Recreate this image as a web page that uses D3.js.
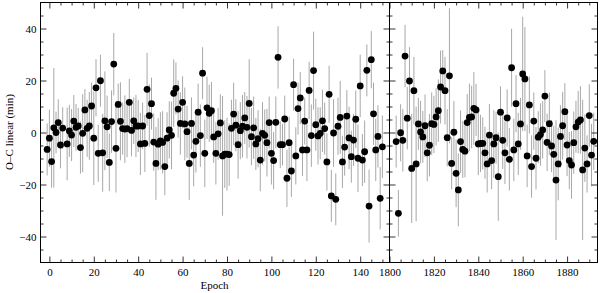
<!DOCTYPE html>
<html>
<head>
<meta charset="utf-8">
<script src="https://cdn.jsdelivr.net/npm/d3@7"></script>
<style>
  html, body { margin: 0; padding: 0; background: #fff; }
  svg { display: block; }
  svg text { font-family: "Liberation Serif", "DejaVu Serif", serif; }
</style>
</head>
<body>
<div id="chart"></div>
<script>
// O-C residuals, early epochs (left panel)
const leftEpoch = [-1,0,1,2,3,4,5,6,8,9,10,11,12,13,14,15,16,17,18,19,20,21,22,23,24,25,26,27,28,29,
  30,31,32,33,34,35,36,37,38,39,40,41,42,43,44,45,46,47,48,49,50,51,52,53,54,55,56,57,58,59,
  60,61,62,63,64,65,66,67,68,69,70,71,72,73,74,75,76,77,78,79,80,81,82,83,84,85,86,87,88,89,
  90,91,92,93,94,95,96,97,98,99,100,101,102,103,104,105,106,107,108,109,110,111,112,113,114,115,116,117,118,119,
  120,121,122,123,124,125,126,127,128,129,130,131,132,133,134,135,136,137,138,139,140,141,142,143,144,145,146,147,148,149,150]
const leftOC = [-6.5,-2.2,-11.2,1.8,0,3.8,-4.8,1.7,-4.4,0.6,-1,4.4,2,2.5,-5.8,-0.3,8.7,1.6,2.5,10.2,-2.2,17.2,-8,19.9,-7.8,4.5,2.2,-11.5,4.2,26.3,
  -6.1,10.8,4.3,1.5,1.3,1.5,11.6,0.8,4.5,2.5,2.5,-4.4,2.5,-4.2,16.6,6.5,11.1,-3.7,-11.9,-4.5,-3.2,-3.8,-13.1,-2.2,1,-1.1,15.1,17,9,3.5,
  11.6,3.3,0.3,-11.9,3.5,-8.7,-3.4,7.8,-1.2,22.8,-8,9.5,7.4,8.4,-1.7,-8,-0.5,3.7,-9,-8.3,-8.3,-8.5,1.6,7.1,2.8,-4.7,0.7,2.4,5.6,2,
  11.2,-1.6,1.8,-4.4,-2.4,-10.6,-0.3,-1.1,-3.9,3.8,-8,-10.8,3.9,28.9,-4.7,-4.7,5.2,-17.6,-3.9,-14.8,18.4,-9,9.2,13.3,-6.7,4.4,-6.7,16.2,-1.2,23.8,
  3,-1.3,-0.3,4.5,1.5,-11.3,14.7,-24.4,-0.2,-25.7,2.4,5.8,-11.3,-5.6,6.3,-2.1,-9.3,-2.9,5.1,-9.9,17.9,-10.6,-7.4,23.9,-28.3,28,7.2,-6.7,-1.5,-25.3,-5.5]
const leftErr = [10,11,10,23,8,9,9,8,14,10,10,10,9,7,10,15,8,11,13,9,18,11,11,10,15,19,12,11,12,12,
  17,8,15,10,13,11,9,10,9,12,10,12,9,11,14,12,10,11,14,10,11,12,11,10,11,13,13,10,11,12,
  10,14,10,14,10,12,12,11,12,10,13,12,11,11,10,12,10,11,23,13,14,12,11,12,10,13,11,12,10,12,
  17,11,12,10,11,12,12,10,13,10,12,11,10,12,9,8,9,11,10,10,10,11,10,10,10,9,12,11,12,15,
  10,11,10,12,10,11,11,10,13,10,11,14,10,11,10,12,10,10,11,13,12,10,12,10,14,11,12,12,12,12,12]

// O-C residuals, late epochs (right panel)
const rightEpoch = [1803,1804,1805,1806,1807,1808,1809,1810,1811,1812,1813,1814,1815,1816,1817,1818,1819,1820,1821,1822,
  1823,1824,1825,1826,1827,1828,1829,1830,1831,1832,1833,1834,1835,1836,1837,1838,1839,1840,1841,1842,
  1843,1844,1845,1846,1847,1848,1849,1850,1851,1852,1853,1854,1855,1856,1857,1858,1859,1860,1861,1862,
  1863,1864,1865,1866,1867,1868,1869,1870,1871,1872,1873,1874,1875,1876,1877,1878,1879,1880,1881,1882,
  1883,1884,1885,1886,1887,1888,1889,1890,1891,1892]
const rightOC = [-3.5,-31.1,-0.1,-3,29.4,5.5,19.8,-13.8,16.1,-12.1,3.3,0.2,-1.7,2.6,-7.8,-4.9,3.4,3.1,6,8.4,
  17.5,23.7,16.1,-2,21.8,-11.9,0.1,-15.7,-22.1,-3.5,-6.5,-7.2,3.8,5.8,6,9.3,8.7,-4.4,-4.2,-4.2,
  -7.8,-12.1,-1,-10.8,-4.4,-2,-17,7.8,-3,-7.8,5.6,-10.3,24.9,-6.7,11.1,-4.4,3.3,22.5,20.6,-9,
  10.6,-13.1,4.4,-9.9,-1.8,-0.8,1,14,-3.8,3.4,-5.2,-8.4,-18.3,-12.1,-1.5,2.6,8,-4.8,-10.8,-12.5,
  -3.9,2.2,4,4.8,-14.4,-6,-12.1,6.5,-8.7,-3.4]
const rightErr = [10,9,11,12,12,12,13,21,13,22,10,12,10,12,11,12,12,11,11,12,
  14,8,13,11,26,10,12,13,14,12,11,10,11,13,12,14,10,12,11,10,
  10,11,12,11,13,10,17,10,11,12,11,12,15,12,11,12,10,22,20,12,
  11,12,11,12,10,12,11,10,11,12,10,11,23,14,12,13,11,12,11,13,
  12,10,12,13,27,13,11,12,12,11]

const yMajor = [-40, -20, 0, 20, 40]
const leftMajor = [0, 20, 40, 60, 80, 100, 120, 140]
const rightMajor = [1800, 1820, 1840, 1860, 1880]
const serif = '"Liberation Serif", "DejaVu Serif", serif'

const width = 600, height = 293
const svg = d3.select('#chart').append('svg')
    .attr('width', width).attr('height', height)
    .attr('font-family', serif)

const y = d3.scaleLinear().domain([-50, 50]).range([262.5, 2.5])
const xL = d3.scaleLinear().domain([-4, 153.2]).range([40.5, 389.5])
const xR = d3.scaleLinear().domain([1800, 1893.7]).range([389.5, 597.5])

function range5(x) {
    const [a, b] = x.domain()
    return d3.range(Math.ceil(a / 5) * 5, b + 0.01, 5)
}

function panel( x, epochs, oc, err, major, yLabels ) {
    const g = svg.append('g')
    const [x0, x1] = x.range()
    const y0 = y.range()[0], y1 = y.range()[1]

    // Error bars, then the points on top
    g.selectAll('line.err').data(epochs).join('line')
        .attr('class', 'err')
        .attr('x1', d => x(d)).attr('x2', d => x(d))
        .attr('y1', (d, i) => y(Math.max(oc[i] - err[i], -50)))
        .attr('y2', (d, i) => y(Math.min(oc[i] + err[i], 50)))
        .attr('stroke', '#a8a8a8').attr('stroke-width', 1)
    g.selectAll('circle').data(epochs).join('circle')
        .attr('cx', d => x(d)).attr('cy', (d, i) => y(oc[i]))
        .attr('r', 3.4).attr('fill', '#000')

    // Ticks on all four sides, pointing inward
    const axes = [
        [d3.axisBottom(x), `translate(0,${y0})`, major, range5(x), yLabels !== null, 6],
        [d3.axisTop(x), `translate(0,${y1})`, major, range5(x), false, 0],
        [d3.axisLeft(y), `translate(${x0},0)`, yMajor, d3.range(-45, 50, 5), yLabels, 4],
        [d3.axisRight(y), `translate(${x1},0)`, yMajor, d3.range(-45, 50, 5), false, 0]
    ]
    axes.forEach(([ax, tr, maj, minor, labels, pad]) => {
        g.append('g').attr('transform', tr)
            .call(ax.tickValues(minor.filter(v => !maj.includes(v))).tickSize(-3).tickSizeOuter(0).tickFormat(''))
            .call(s => s.select('.domain').remove())
        g.append('g').attr('transform', tr)
            .call(ax.tickValues(maj).tickSize(-6).tickSizeOuter(0).tickPadding(pad)
                .tickFormat(labels ? d3.format('d') : ''))
            .call(s => s.select('.domain').remove())
            .call(s => s.attr('font-family', serif).attr('font-size', 11))
            .call(s => s.selectAll('text').attr('fill', '#000'))
    })
    g.selectAll('.tick line').attr('stroke', '#000').attr('stroke-width', 0.8)

    // Frame
    g.append('rect').attr('x', x0).attr('y', y1)
        .attr('width', x1 - x0).attr('height', y0 - y1)
        .attr('fill', 'none').attr('stroke', '#000').attr('stroke-width', 1)
}

panel( xL, leftEpoch, leftOC, leftErr, leftMajor, true )
panel( xR, rightEpoch, rightOC, rightErr, rightMajor, false )

// Axis titles
svg.append('text')
    .attr('x', 214.5).attr('y', 289)
    .attr('text-anchor', 'middle').attr('font-size', 11)
    .attr('font-family', serif)
    .text('Epoch')
svg.append('text')
    .attr('transform', 'translate(13,132) rotate(-90)')
    .attr('text-anchor', 'middle').attr('font-size', 11)
    .attr('font-family', serif)
    .text('O–C linear (min)')
</script>
</body>
</html>
